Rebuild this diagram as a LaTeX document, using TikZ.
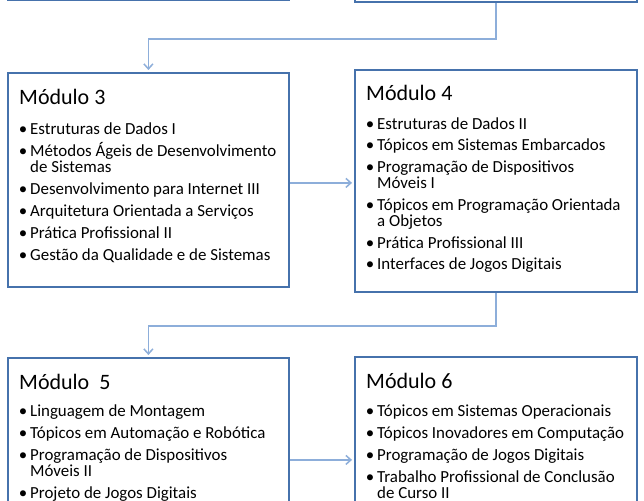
\documentclass[tikz,border=0pt]{standalone}
\usepackage{fontspec}
\setmainfont{Carlito}
\usetikzlibrary{arrows.meta}
\definecolor{boxblue}{HTML}{4672AC}
\definecolor{linkblue}{HTML}{8DAEDA}
\begin{document}
\begin{tikzpicture}[x=1pt,y=-1pt,
modbox/.style={draw=boxblue,line width=1.8pt,fill=white,inner sep=0pt},
link/.style={draw=linkblue,line width=1.5pt,-{Straight Barb[length=5pt,width=9pt]},shorten >=2pt},
ttl/.style={anchor=base west,inner sep=0pt,font=\fontsize{22}{26}\selectfont},
itm/.style={anchor=base west,inner sep=0pt,font=\fontsize{16.9}{18}\selectfont,execute at begin node={\llap{\textbullet\hspace{3pt}}}},
cont/.style={anchor=base west,inner sep=0pt,font=\fontsize{16.9}{18}\selectfont}]
\useasboundingbox (0,0) rectangle (644,500);
\clip (0,0) rectangle (644,500);
\fill[white] (0,0) rectangle (644,500);
\node[modbox,minimum width=281pt,minimum height=100pt,anchor=south west] (m1) at (7,1.5) {};
\node[modbox,minimum width=282pt,minimum height=100pt,anchor=south west] (m2) at (354,3) {};
\node[modbox,minimum width=281pt,minimum height=214pt,anchor=north west] (m3) at (7,72) {};
\node[modbox,minimum width=282pt,minimum height=222pt,anchor=north west] (m4) at (354,69) {};
\node[modbox,minimum width=281pt,minimum height=204pt,anchor=north west] (m5) at (7,357) {};
\node[modbox,minimum width=282pt,minimum height=206pt,anchor=north west] (m6) at (354,356) {};
\draw[link] (m2.south) -- ++(0,36) -| (m3.north);
\draw[link] ([yshift=-3pt]m3.east) -- ([yshift=-3pt]m3.east -| m4.west);
\draw[link] (m4.south) -- ++(0,33) -| (m5.north);
\draw[link] (m5.east) -- (m5.east -| m6.west);
\node[ttl] (m3t) at (19,104) {Módulo 3};
\node[itm] (m3a) at (30,134) {Estruturas de Dados I};
\node[itm] (m3b) at (30,156) {Métodos Ágeis de Desenvolvimento};
\node[cont] (m3c) at (30,172.5) {de Sistemas};
\node[itm] (m3d) at (30,194.5) {Desenvolvimento para Internet III};
\node[itm] (m3e) at (30,216.5) {Arquitetura Orientada a Serviços};
\node[itm] (m3f) at (30,238.5) {Prática Profissional II};
\node[itm] (m3g) at (30,260.5) {Gestão da Qualidade e de Sistemas};
\node[ttl] (m4t) at (366,101) {Módulo 4};
\node[itm] (m4a) at (377,129) {Estruturas de Dados II};
\node[itm] (m4b) at (377,150.5) {Tópicos em Sistemas Embarcados};
\node[itm] (m4c) at (377,172) {Programação de Dispositivos};
\node[cont] (m4d) at (377,188.5) {Móveis I};
\node[itm] (m4e) at (377,210) {Tópicos em Programação Orientada};
\node[cont] (m4f) at (377,226.5) {a Objetos};
\node[itm] (m4g) at (377,248) {Prática Profissional III};
\node[itm] (m4h) at (377,269.5) {Interfaces de Jogos Digitais};
\node[ttl] (m5t) at (19,389) {Módulo\ \ 5};
\node[itm] (m5a) at (30,416) {Linguagem de Montagem};
\node[itm] (m5b) at (30,438) {Tópicos em Automação e Robótica};
\node[itm] (m5c) at (30,460) {Programação de Dispositivos};
\node[cont] (m5d) at (30,476.5) {Móveis II};
\node[itm] (m5e) at (30,498.5) {Projeto de Jogos Digitais};
\node[ttl] (m6t) at (366,388) {Módulo 6};
\node[itm] (m6a) at (377,416) {Tópicos em Sistemas Operacionais};
\node[itm] (m6b) at (377,438) {Tópicos Inovadores em Computação};
\node[itm] (m6c) at (377,460) {Programação de Jogos Digitais};
\node[itm] (m6d) at (377,482) {Trabalho Profissional de Conclusão};
\node[cont] (m6e) at (377,498.5) {de Curso II};
\end{tikzpicture}
\end{document}
